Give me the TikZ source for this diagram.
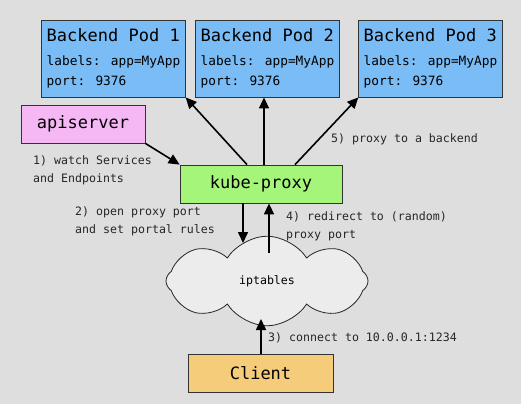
\documentclass[tikz,border=0pt]{standalone}
\usepackage{fontspec}
\setmainfont{DejaVu Sans Mono}
\usetikzlibrary{shapes.symbols,arrows.meta}

\definecolor{fondo}{HTML}{DEDEDE}
\definecolor{podazul}{HTML}{7ABCF5}
\definecolor{apirosa}{HTML}{F5B8F5}
\definecolor{proxyverde}{HTML}{A5F57A}
\definecolor{clienteamarillo}{HTML}{F5CD7A}
\definecolor{nube}{HTML}{ECECEC}

\begin{document}
\begin{tikzpicture}[
        x=1pt, y=-1pt,
        caja/.style={rectangle, draw=black!80, line width=0.8pt, minimum height=38pt,
            font=\fontsize{17}{20}\selectfont},
        pod/.style={caja, fill=podazul, align=left, inner xsep=5pt, minimum height=77pt},
        etiqueta/.style={align=left, inner sep=0pt, anchor=west, text=black!85,
            font=\fontsize{11.6}{18}\selectfont},
        flecha/.style={line width=1.6pt, -{Triangle[length=11pt,width=10pt]}}
    ]
        % Fondo y margenes
        \fill[fondo] (0,0) rectangle (521,404);
        \useasboundingbox (0,0) rectangle (521,404);

        % Pods de backend
        \node[pod] (pod1) at (113.5,58.5) {Backend Pod 1\\[4pt]{\fontsize{12.8}{18}\selectfont labels: app=MyApp}\\{\fontsize{12.8}{18}\selectfont port: 9376}};
        \node[pod] (pod2) at (267.5,58.5) {Backend Pod 2\\[4pt]{\fontsize{12.8}{18}\selectfont labels: app=MyApp}\\{\fontsize{12.8}{18}\selectfont port: 9376}};
        \node[pod] (pod3) at (430.5,58.5) {Backend Pod 3\\[4pt]{\fontsize{12.8}{18}\selectfont labels: app=MyApp}\\{\fontsize{12.8}{18}\selectfont port: 9376}};

        % Componentes
        \node[caja, fill=apirosa, minimum width=124pt] (api) at (83,124) {apiserver};
        \node[caja, fill=proxyverde, minimum width=162pt] (kp) at (261,184) {kube-proxy};
        \node[caja, fill=clienteamarillo, minimum width=145pt] (client) at (260.5,373) {Client};
        \node[cloud, cloud puffs=8, cloud puff arc=115, draw=black!85, line width=0.8pt,
            fill=nube, minimum width=202pt, minimum height=76pt, inner sep=0pt,
            font=\fontsize{11.6}{14}\selectfont] (ipt) at (267,281) {iptables};

        % Puntos de llegada en la nube
        \coordinate (ninA) at (243,243);
        \coordinate (ninB) at (269,253);
        \coordinate (nout) at (261,319);

        % Flechas
        \draw[flecha] (api.south east) -- (kp.north west);
        \draw[flecha] ([xshift=-14pt]kp.north) -- (pod1.south east);
        \draw[flecha] ([xshift=3pt]kp.north) -- ([xshift=3pt]kp.north |- pod2.south);
        \draw[flecha] ([xshift=34pt]kp.north) -- (pod3.south west);
        \draw[flecha] (kp.south -| ninA) -- (ninA);
        \draw[flecha] (ninB) -- (kp.south -| ninB);
        \draw[flecha] (client.north -| nout) -- (nout);

        % Etiquetas
        \node[etiqueta] (l1) at (33,170) {1) watch Services\\and Endpoints};
        \node[etiqueta] (l2) at (75,221.5) {2) open proxy port\\and set portal rules};
        \node[etiqueta] (l3) at (268,338) {3) connect to 10.0.0.1:1234};
        \node[etiqueta] (l4) at (286,226) {4) redirect to (random)\\proxy port};
        \node[etiqueta] (l5) at (331,139) {5) proxy to a backend};
\end{tikzpicture}
\end{document}
